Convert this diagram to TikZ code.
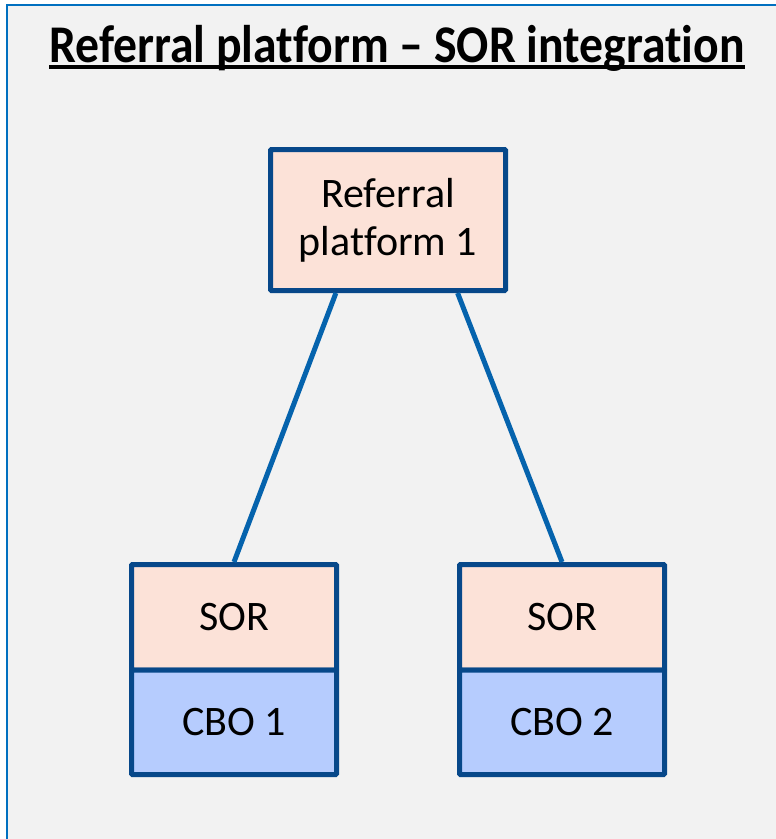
\documentclass[tikz,border=0pt]{standalone}
\usepackage{fontspec}
\setmainfont{Carlito}[Ligatures=NoCommon]
\usetikzlibrary{calc}
\definecolor{bgc}{HTML}{F2F2F2}
\definecolor{framec}{HTML}{0070C0}
\definecolor{pinkc}{HTML}{FCE2D8}
\definecolor{bluec}{HTML}{B6CCFE}
\definecolor{borderc}{HTML}{07488A}
\definecolor{linkc}{HTML}{0563AD}
\tikzset{
  boxbase/.style={draw=borderc, line width=5pt, rounded corners=1pt, inner sep=0pt, align=center,
    font=\fontsize{42}{48}\selectfont, text=black},
  pinkbox/.style={boxbase, fill=pinkc},
  bluebox/.style={boxbase, fill=bluec},
  link/.style={draw=linkc, line width=5pt},
}
\begin{document}
\begin{tikzpicture}[x=1pt,y=-1pt]
\useasboundingbox (0,0) rectangle (776,839);
\fill[white] (0,0) rectangle (776,839);
\fill[bgc] (7,5) rectangle (776,839);
\draw[framec, line width=2pt] (776,5) -- (7,5) -- (7,839);
% title
\node[anchor=base, inner sep=0pt, font=\bfseries\fontsize{53}{64}\selectfont] (title) at (397,62) {\scalebox{0.9}[1]{Referral platform – SOR integration}};
\draw[line width=4pt] ([yshift=-5pt]title.base west) -- ([yshift=-5pt]title.base east);
% boxes
\node[pinkbox, minimum width=235pt, minimum height=141pt] (rp) at (388,220) {Referral\\platform 1};
\node[pinkbox, minimum width=205pt, minimum height=105.5pt] (sor1) at (234,617.25) {SOR};
\node[bluebox, minimum width=205pt, minimum height=104.5pt] (cbo1) at (234,722.25) {CBO 1};
\node[pinkbox, minimum width=205pt, minimum height=105.5pt] (sor2) at (562,617.25) {SOR};
\node[bluebox, minimum width=205pt, minimum height=104.5pt] (cbo2) at (562,722.25) {CBO 2};
% links
\draw[link] ($(rp.south west)!0.283!(rp.south east)$) -- (sor1.north);
\draw[link] ($(rp.south west)!0.79!(rp.south east)$) -- (sor2.north);
\end{tikzpicture}
\end{document}
